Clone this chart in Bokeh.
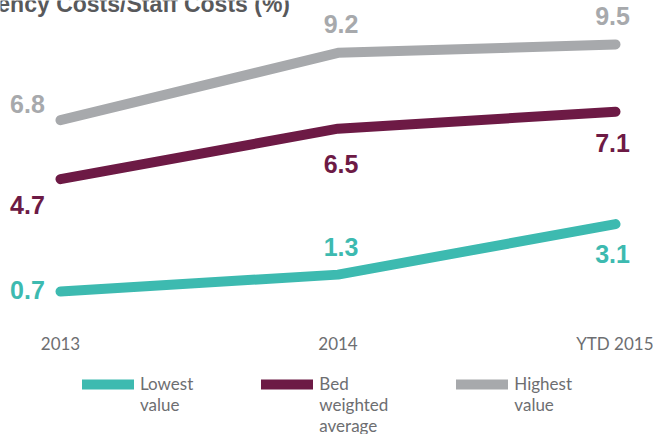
from bokeh.plotting import figure
from bokeh.layouts import column
from bokeh.models import ColumnDataSource, Legend, LegendItem, FixedTicker
from bokeh.core.properties import value
from bokeh.embed import file_html
from bokeh.resources import INLINE

# ---- data ----
categories = ["2013", "2014", "YTD 2015"]
lowest = [0.7, 1.3, 3.1]
bed_weighted = [4.7, 6.5, 7.1]
highest = [6.8, 9.2, 9.5]
series_labels = [["Lowest", "value"], ["Bed", "weighted", "average"], ["Highest", "value"]]
title_text = "Agency Costs/Staff Costs (%)"

# ---- styles ----
TEAL = "#3DBAB0"
MAROON = "#6D1A45"
GREY = "#A7A9AC"
TEXT_GREY = "#6D6E71"
VAL_FONT = "Liberation Sans"
TICK_FONT = "Lato"

xs = list(range(len(categories)))

p = figure(frame_width=653, frame_height=300, x_range=(-0.2162, 2.1369), y_range=(0.378, 11.065),
           output_backend="svg", toolbar_location=None, y_axis_location=None,
           min_border_left=0, min_border_right=0, min_border_top=0, min_border_bottom=0)
p.outline_line_color = None
p.xgrid.visible = False
p.ygrid.visible = False

ax = p.xaxis[0]
ax.ticker = FixedTicker(ticks=xs)
ax.major_label_overrides = {i: c for i, c in enumerate(categories)}
ax.axis_line_color = None
ax.major_tick_line_color = None
ax.minor_tick_line_color = None
ax.major_tick_out = 0
ax.major_tick_in = 0
ax.major_label_standoff = 32
ax.major_label_text_font = TICK_FONT
ax.major_label_text_font_size = "17px"
ax.major_label_text_color = TEXT_GREY

series = [
    (lowest, TEAL, [-33, 3, -3], [-1, -28, 30]),
    (bed_weighted, MAROON, [-33, 3, -3], [26, 35, 31]),
    (highest, GREY, [-33, 3, -3], [-16, -29, -28]),
]

# legend panel as its own small figure (key lines kept outside its visible range)
lg = figure(width=653, height=78, x_range=(100, 101), y_range=(100, 101),
            output_backend="svg", toolbar_location=None,
            x_axis_location=None, y_axis_location=None,
            min_border_left=0, min_border_right=0, min_border_top=0, min_border_bottom=0)
lg.outline_line_color = None
lg.xgrid.visible = False
lg.ygrid.visible = False

items = []
for (vals, col, dxs, dys), lab in zip(series, series_labels):
    src = ColumnDataSource(dict(x=xs, y=vals, t=[f"{v:.1f}" for v in vals], dx=dxs, dy=dys))
    p.line("x", "y", source=src, line_color=col, line_width=10, line_cap="round", line_join="round")
    p.text("x", "y", text="t", source=src, x_offset="dx", y_offset="dy",
           text_align="center", text_baseline="middle", text_color=col,
           text_font=value(VAL_FONT), text_font_size="25px", text_font_style="bold")
    key = lg.line("x", "y", source=src, line_color=col, line_width=10, line_cap="round")
    # pad so the key line sits beside the first line of text
    lines = [" "] * 2 + lab + [" "] * (3 - len(lab))
    items.append(LegendItem(label="\n".join(lines), renderers=[key]))

p.text(x=[0.827], y=[10.923], text=[title_text], text_align="right", text_baseline="alphabetic",
       text_color="#58595B", text_font=value(VAL_FONT), text_font_size="23px", text_font_style="bold")

legend = Legend(items=items, orientation="horizontal", location=(82, -2),
                glyph_width=52, glyph_height=16, label_standoff=6, spacing=68,
                padding=0, margin=0, border_line_color=None, background_fill_alpha=0,
                label_text_font=TICK_FONT, label_text_font_size="17px",
                label_text_color=TEXT_GREY, label_text_line_height=1.35)
lg.add_layout(legend)

open("out.html", "w").write(file_html(column(p, lg, spacing=0), INLINE))
